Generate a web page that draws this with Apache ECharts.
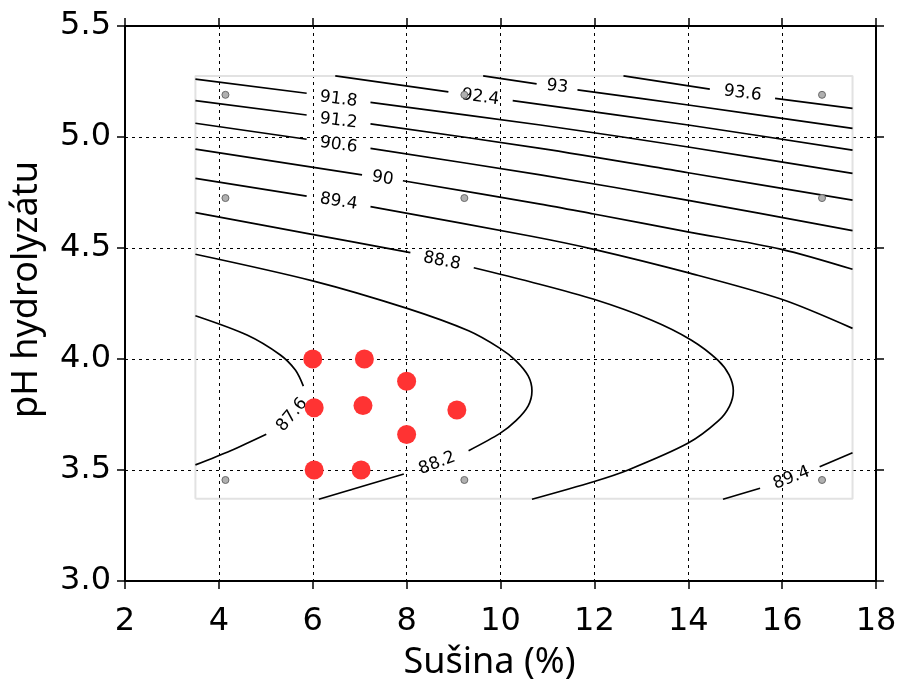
<!DOCTYPE html>
<html>
<head>
<meta charset="utf-8">
<title>pH hydrolyzátu / Sušina</title>
<script src="https://cdn.jsdelivr.net/npm/echarts@6/dist/echarts.min.js"></script>
<style>
  html, body { margin: 0; padding: 0; background: #fff; }
  #chart { width: 903px; height: 691px; }
</style>
</head>
<body>
<div id="chart"></div>
<script>
  // axis ticks
  const xTicks = [2, 4, 6, 8, 10, 12, 14, 16, 18];
  const yTicks = [3.0, 3.5, 4.0, 4.5, 5.0, 5.5];

  // extent of the model surface (light grey frame)
  const domainX = [3.5, 17.5];
  const domainY = [3.37, 5.275];

  // measured points (red)
  const expX = [6.0, 7.1, 8.0, 6.03, 7.07, 9.07, 8.0, 6.03, 7.03];
  const expY = [4.0, 4.0, 3.9, 3.78, 3.79, 3.77, 3.66, 3.5, 3.5];

  // design points (small grey)
  const designX = [4.14, 9.23, 16.85];
  const designY = [5.19, 4.725, 3.455];

  // contour lines, split where the label sits
  // label = [x, y, rotation]
  const c93_6 = [
    [[12.62, 5.275], [14.46, 5.216]],
    [[15.85, 5.174], [17.5, 5.129]]
  ];
  const lab93_6 = [[15.16, 5.197, -7]];

  const c93 = [
    [[9.63, 5.275], [10.77, 5.239]],
    [[11.64, 5.212], [14.0, 5.144], [17.5, 5.039]]
  ];
  const lab93 = [[11.21, 5.227, -7]];

  const c92_4 = [
    [[6.48, 5.275], [8.89, 5.203]],
    [[10.26, 5.164], [14.0, 5.054], [17.5, 4.941]]
  ];
  const lab92_4 = [[9.57, 5.179, -8]];

  const c91_8 = [
    [[3.5, 5.261], [5.87, 5.197]],
    [[7.23, 5.156], [10.85, 5.054], [14.0, 4.955], [17.5, 4.836]]
  ];
  const lab91_8 = [[6.55, 5.170, -7]];

  const c91_2 = [
    [[3.5, 5.164], [5.87, 5.099]],
    [[7.23, 5.059], [10.85, 4.949], [14.0, 4.839], [17.5, 4.716]]
  ];
  const lab91_2 = [[6.55, 5.073, -7]];

  const c90_6 = [
    [[3.5, 5.062], [5.87, 4.990]],
    [[7.23, 4.949], [10.85, 4.829], [13.97, 4.716], [17.5, 4.578]]
  ];
  const lab90_6 = [[6.55, 4.964, -8]];

  const c90 = [
    [[3.5, 4.945], [7.05, 4.829]],
    [[7.92, 4.803], [10.85, 4.698], [11.99, 4.653], [13.99, 4.573], [15.99, 4.494], [17.5, 4.404]]
  ];
  const lab90 = [[7.49, 4.814, -9]];

  const c89_4 = [
    [[3.5, 4.814], [5.87, 4.734]],
    [[7.23, 4.686], [10.63, 4.554], [11.99, 4.494], [13.99, 4.389], [15.99, 4.269], [17.5, 4.138]],
    [[14.74, 3.368], [15.53, 3.418]],
    [[16.8, 3.515], [17.5, 3.578]]
  ];
  const lab89_4 = [[6.55, 4.709, -9], [16.2, 3.464, 21]];

  const c88_8 = [
    [[3.5, 4.659], [5.87, 4.566], [8.08, 4.479]],
    [[9.43, 4.411], [10.63, 4.348], [11.99, 4.269], [13.21, 4.176], [14.06, 4.086], [14.63, 3.995],
     [14.87, 3.928], [14.96, 3.857], [14.88, 3.788], [14.64, 3.721], [13.99, 3.620],
     [12.72, 3.5], [11.98, 3.447], [10.67, 3.368]]
  ];
  const lab88_8 = [[8.75, 4.441, -11]];

  const c88_2 = [
    [[3.5, 4.472], [6.02, 4.351], [8.01, 4.228], [9.32, 4.127], [9.99, 4.048], [10.33, 3.992],
     [10.59, 3.924], [10.67, 3.857], [10.59, 3.789], [10.33, 3.722], [9.99, 3.665], [9.32, 3.587]],
    [[7.94, 3.482], [6.13, 3.368]]
  ];
  const lab88_2 = [[8.65, 3.530, 21]];

  const c87_6 = [
    [[3.5, 4.195], [4.60, 4.108], [5.31, 4.018], [5.63, 3.950], [5.80, 3.878]],
    [[5.01, 3.661], [4.25, 3.587], [3.5, 3.523]]
  ];
  const lab87_6 = [[5.56, 3.748, 50]];

  const contours = [
    ['93.6', c93_6, lab93_6], ['93', c93, lab93], ['92.4', c92_4, lab92_4],
    ['91.8', c91_8, lab91_8], ['91.2', c91_2, lab91_2], ['90.6', c90_6, lab90_6],
    ['90', c90, lab90], ['89.4', c89_4, lab89_4], ['88.8', c88_8, lab88_8],
    ['88.2', c88_2, lab88_2], ['87.6', c87_6, lab87_6]
  ];

  const chart = echarts.init(document.getElementById('chart'));

  const tickFont = 'DejaVu Sans';
  const titleFont = 'Noto Sans';
  const axisLine = {onZero: false, lineStyle: {color: '#000', width: 2}};
  const axisTick = {inside: false, length: 8, lineStyle: {color: '#000', width: 1.5}};
  const dotted = {show: true, lineStyle: {color: '#000', width: 1, type: [3, 4]}};

  const series = [];

  // grey frame of the modelled area
  series.push({
    type: 'line',
    data: [[domainX[0], domainY[0]], [domainX[0], domainY[1]], [domainX[1], domainY[1]],
           [domainX[1], domainY[0]], [domainX[0], domainY[0]]],
    symbol: 'none',
    lineStyle: {color: '#e2e2e2', width: 2},
    silent: true,
  });

  contours.forEach(([level, segs, labs]) => {
    segs.forEach(seg => {
      series.push({
        type: 'line',
        name: level,
        data: seg,
        symbol: 'none',
        smooth: 0.3,
        lineStyle: {color: '#000', width: 1.7},
        silent: true,
      });
    });
    series.push({
      type: 'scatter',
      symbolSize: 1,
      itemStyle: {color: 'transparent', opacity: 1},
      data: labs.map(l => ({value: [l[0], l[1]], label: {rotate: l[2]}})),
      label: {
        show: true,
        position: 'inside',
        formatter: level,
        fontFamily: tickFont,
        fontSize: 17,
        color: '#000',
        textBorderWidth: 0,
      },
      silent: true,
    });
  });

  series.push({
    type: 'scatter',
    data: designY.flatMap(y => designX.map(x => [x, y])),
    symbol: 'circle',
    symbolSize: 7,
    itemStyle: {color: '#b0b0b0', borderColor: '#6a6a6a', borderWidth: 1, opacity: 1},
    z: 5,
  });

  series.push({
    type: 'scatter',
    data: expX.map((x, i) => [x, expY[i]]),
    symbol: 'circle',
    symbolSize: 19,
    itemStyle: {color: '#ff3333', opacity: 1},
    z: 6,
  });

  chart.setOption({
    animation: false,
    backgroundColor: '#fff',
    grid: {left: 125, right: 27, top: 26, bottom: 110},
    xAxis: [
      {
        type: 'value',
        min: xTicks[0],
        max: xTicks[xTicks.length - 1],
        interval: xTicks[1] - xTicks[0],
        position: 'bottom',
        axisLine, axisTick,
        axisLabel: {fontFamily: tickFont, fontSize: 32, color: '#000', margin: 25},
        splitLine: dotted,
        name: 'Sušina (%)',
        nameLocation: 'middle',
        nameGap: 64,
        nameTextStyle: {fontFamily: titleFont, fontSize: 36, color: '#000', padding: [0, 22, 0, 0]},
      },
      {
        type: 'value',
        min: xTicks[0],
        max: xTicks[xTicks.length - 1],
        interval: xTicks[1] - xTicks[0],
        position: 'top',
        axisLine, axisTick,
        axisLabel: {show: false},
        splitLine: {show: false},
      },
    ],
    yAxis: [
      {
        type: 'value',
        min: yTicks[0],
        max: yTicks[yTicks.length - 1],
        interval: yTicks[1] - yTicks[0],
        position: 'left',
        axisLine, axisTick,
        axisLabel: {fontFamily: tickFont, fontSize: 32, color: '#000', margin: 14,
                    formatter: v => v.toFixed(1)},
        splitLine: dotted,
        name: 'pH hydrolyzátu',
        nameLocation: 'middle',
        nameGap: 80,
        nameRotate: 90,
        nameTextStyle: {fontFamily: titleFont, fontSize: 36, color: '#000', padding: [0, 0, 0, 28]},
      },
      {
        type: 'value',
        min: yTicks[0],
        max: yTicks[yTicks.length - 1],
        interval: yTicks[1] - yTicks[0],
        position: 'right',
        axisLine, axisTick,
        axisLabel: {show: false},
        splitLine: {show: false},
      },
    ],
    series,
  });
</script>
</body>
</html>
